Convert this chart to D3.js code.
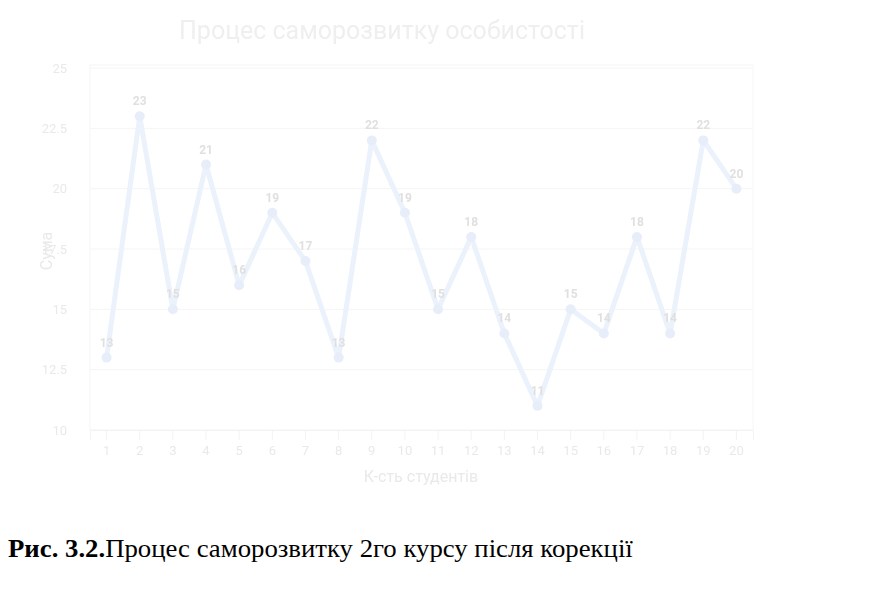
<!DOCTYPE html>
<html>
<head>
<meta charset="utf-8">
<script src="https://cdn.jsdelivr.net/npm/d3@7"></script>
<style>
  body { margin: 0; background: #fff; }
  svg { display: block; }
</style>
</head>
<body>
<svg id="chart" width="890" height="599"></svg>
<script>
// Number of students (x) and sum score (y)
const students = ["1","2","3","4","5","6","7","8","9","10","11","12","13","14","15","16","17","18","19","20"];
const scores = [13, 23, 15, 21, 16, 19, 17, 13, 22, 19, 15, 18, 14, 11, 15, 14, 18, 14, 22, 20];
const yTicks = [10, 12.5, 15, 17.5, 20, 22.5, 25];

const svg = d3.select("#chart");
const margin = { left: 90, right: 137, top: 68, bottom: 169 };
const W = 890, H = 599;
const iw = W - margin.left - margin.right;
const ih = H - margin.top - margin.bottom;

const x = d3.scaleBand().domain(students).range([margin.left, margin.left + iw]);
const y = d3.scaleLinear().domain([10, 25]).range([margin.top + ih, margin.top]);

const textCol = "#e9e9e9";
const font = "Roboto, sans-serif";

const defs = svg.append("defs");
defs.append("filter").attr("id", "soft")
  .append("feGaussianBlur").attr("stdDeviation", 0.6);

const plot = svg.append("g").attr("filter", "url(#soft)");

// Title
plot.append("text")
  .attr("x", 382).attr("y", 39)
  .attr("text-anchor", "middle")
  .attr("font-family", font)
  .attr("font-size", 25)
  .attr("fill", "#efefef")
  .text("Процес саморозвитку особистості");

// Horizontal grid
plot.append("g")
  .selectAll("line")
  .data(yTicks)
  .join("line")
  .attr("x1", margin.left).attr("x2", margin.left + iw)
  .attr("y1", d => y(d)).attr("y2", d => y(d))
  .attr("stroke", "#f5f5f5");

// Plot frame
plot.append("rect")
  .attr("x", margin.left).attr("y", margin.top - 3)
  .attr("width", iw).attr("height", ih + 3)
  .attr("fill", "none")
  .attr("stroke", "#f6f6f6");

// Y axis
const yAxis = plot.append("g")
  .attr("transform", `translate(${margin.left},0)`)
  .call(d3.axisLeft(y).tickValues(yTicks).tickSize(0).tickPadding(23).tickFormat(d3.format("")));
yAxis.select(".domain").remove();
yAxis.selectAll("text")
  .attr("font-family", font)
  .attr("font-size", 13)
  .attr("fill", textCol);

// X axis
const xAxis = plot.append("g")
  .attr("transform", `translate(0,${margin.top + ih})`)
  .call(d3.axisBottom(x).tickSize(10).tickPadding(6));
xAxis.select(".domain").attr("stroke", "#f3f3f3");
xAxis.selectAll(".tick line").attr("stroke", "#f3f3f3");
xAxis.selectAll("text")
  .attr("font-family", font)
  .attr("font-size", 13)
  .attr("fill", textCol);

// Axis titles
plot.append("text")
  .attr("transform", `translate(52,${margin.top + ih / 2 + 2}) rotate(-90)`)
  .attr("text-anchor", "middle")
  .attr("font-family", font)
  .attr("font-size", 16)
  .attr("fill", textCol)
  .text("Сума");

plot.append("text")
  .attr("x", 421).attr("y", 482)
  .attr("text-anchor", "middle")
  .attr("font-family", font)
  .attr("font-size", 16)
  .attr("fill", textCol)
  .text("К-сть студентів");

// Series
const pts = students.map((s, i) => ({ s, v: scores[i] }));
const cx = d => x(d.s) + x.bandwidth() / 2;

plot.append("path")
  .datum(pts)
  .attr("fill", "none")
  .attr("stroke", "#ebf2fb")
  .attr("stroke-width", 5)
  .attr("stroke-linejoin", "round")
  .attr("d", d3.line().x(cx).y(d => y(d.v)));

plot.append("g")
  .selectAll("circle")
  .data(pts)
  .join("circle")
  .attr("cx", cx).attr("cy", d => y(d.v))
  .attr("r", 5)
  .attr("fill", "#e7eef9");

plot.append("g")
  .selectAll("text")
  .data(pts)
  .join("text")
  .attr("x", cx).attr("y", d => y(d.v) - 11)
  .attr("text-anchor", "middle")
  .attr("font-family", font)
  .attr("font-size", 12)
  .attr("font-weight", "bold")
  .attr("fill", "#e0e0e0")
  .text(d => d.v);

// Caption, fitted to its line width
const cap = svg.append("text")
  .attr("x", 0).attr("y", 0)
  .attr("font-family", "'Liberation Serif', 'Times New Roman', serif")
  .attr("font-size", 26)
  .attr("fill", "#000");
cap.append("tspan").attr("font-weight", "bold").text("Рис. 3.2.");
cap.append("tspan").text("Процес саморозвитку 2го курсу після корекції");
const capW = cap.node().getComputedTextLength();
const sx = 625 / capW;
cap.attr("transform", `translate(8,557) scale(${sx},1)`);
</script>
</body>
</html>
